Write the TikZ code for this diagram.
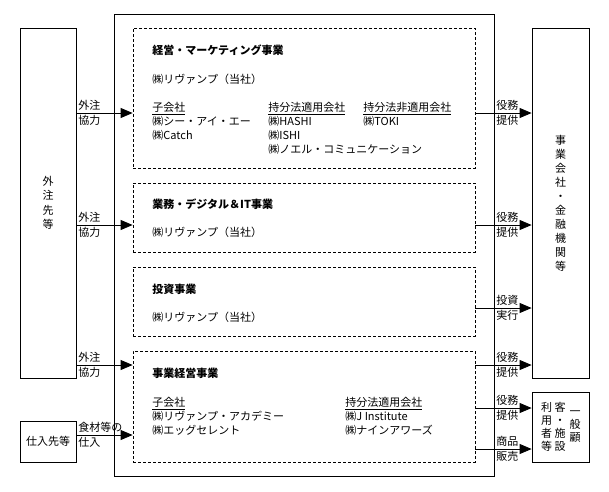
\documentclass[tikz,border=0pt]{standalone}
\usepackage{fontspec}
\setmainfont{Noto Sans CJK JP}
\usetikzlibrary{positioning, arrows.meta}

\begin{document}
\begin{tikzpicture}[x=1pt, y=-1pt, line width=0.8pt,
  font=\fontsize{11}{15}\selectfont,
  box/.style = {draw, inner sep=0, align=center},
  dbox/.style = {draw, dash pattern=on 3pt off 2pt, inner sep=0},
  txt/.style = {anchor=west, inner sep=0},
  title/.style = {txt, font=\fontsize{11}{15}\selectfont\bfseries},
  col/.style = {anchor=north west, inner sep=0, align=left, font=\fontsize{11}{14}\selectfont},
  vcol/.style = {inner sep=0, align=center, font=\fontsize{11}{13}\selectfont},
  lab/.style = {anchor=west, inner sep=0, align=left},
  arr/.style = {-{Triangle[length=12pt, width=10pt]}}]
\useasboundingbox (0,0) rectangle (609,491);

% outer boxes
\node[box, minimum width=380, minimum height=462] (main) at (304,245) {};
\node[box, minimum width=56, minimum height=350, font=\fontsize{11}{14.5}\selectfont] (gaichu) at (48,203) {外\\注\\先\\等};
\node[box, minimum width=56, minimum height=41] (shiire) at (48,441.5) {仕入先等};
\node[box, minimum width=57, minimum height=350, font=\fontsize{11}{14}\selectfont] (client) at (560.5,203) {事\\業\\会\\社\\・\\金\\融\\機\\関\\等};
\node[box, minimum width=57, minimum height=70] (general) at (560.5,427) {};
\node[vcol] (g1) at (546.5,427) {利\\用\\者\\等};
\node[vcol] (g2) at (560,427) {客\\・\\施\\設};
\node[vcol] (g3) at (575,427) {一\\般\\顧};

% segments
\node[dbox, minimum width=342, minimum height=140] (b1) at (304,98) {};
\node[dbox, minimum width=342, minimum height=69] (b2) at (304,217.5) {};
\node[dbox, minimum width=342, minimum height=69] (b3) at (304,301.5) {};
\node[dbox, minimum width=342, minimum height=111] (b4) at (304,406.5) {};

\node[title] (t1) at (152,50) {経営・マーケティング事業};
\node[txt] (r1) at (152,79) {㈱リヴァンプ（当社）};
\node[col] (c11) at (152,102) {\underline{子会社}\\㈱シー・アイ・エー\\㈱Catch};
\node[col] (c12) at (268,102) {\underline{持分法適用会社}\\㈱HASHI\\㈱ISHI\\㈱ノエル・コミュニケーション};
\node[col] (c13) at (363,102) {\underline{持分法非適用会社}\\㈱TOKI};

\node[title] (t2) at (152,204) {業務・デジタル＆IT事業};
\node[txt] (r2) at (152,232) {㈱リヴァンプ（当社）};

\node[title] (t3) at (152,289) {投資事業};
\node[txt] (r3) at (152,317) {㈱リヴァンプ（当社）};

\node[title] (t4) at (152,373) {事業経営事業};
\node[col] (c41) at (152,397) {\underline{子会社}\\㈱リヴァンプ・アカデミー\\㈱エッグセレント};
\node[col] (c42) at (345,397) {\underline{持分法適用会社}\\㈱J Institute\\㈱ナインアワーズ};

% arrows in
\foreach \y/\s/\t/\a/\b in {113/gaichu/b1/外注/協力, 225/gaichu/b2/外注/協力,
    365/gaichu/b4/外注/協力, 435/shiire/b4/食材等の/仕入} {
  \draw[arr] (\s.east |- 0,\y) -- (\t.west |- 0,\y);
  \node[lab] (in\y) at (78,\y) {\a\\\b};
}

% arrows out
\foreach \y/\s/\t/\a/\b in {113/b1/client/役務/提供, 225/b2/client/役務/提供,
    308/b3/client/投資/実行, 365/b4/client/役務/提供,
    408/b4/general/役務/提供, 449/b4/general/商品/販売} {
  \draw[arr] (\s.east |- 0,\y) -- (\t.west |- 0,\y);
  \node[lab] (out\y) at (496,\y) {\a\\\b};
}
\end{tikzpicture}
\end{document}
